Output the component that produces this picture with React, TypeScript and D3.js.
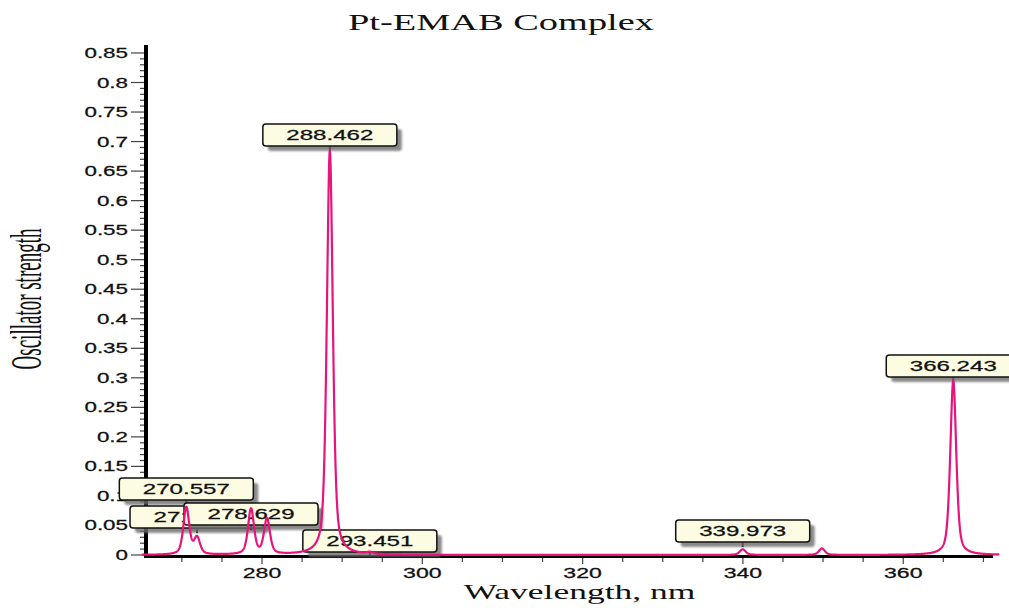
import React from "react";
import * as d3 from "d3";

// ---- data ----
const TRANSITION_NM = [270.557, 271.891, 278.629, 280.62, 288.462, 293.451, 339.973, 349.85, 366.243];
const TRANSITION_F = [0.08, 0.028, 0.077, 0.06, 0.684, 0.003, 0.0095, 0.011, 0.295];
const HWHM_NM = 0.44;

const LABEL_NM = [270.557, 271.891, 278.629, 288.462, 293.451, 339.973, 366.243];
const LABEL_TEXT = ["270.557", "271.891", "278.629", "288.462", "293.451", "339.973", "366.243"];
// level (oscillator strength units) of the bottom edge of each label box
const LABEL_LEVEL = [0.0931, 0.0457, 0.0508, 0.6925, 0.0051, 0.022, 0.3014];

const X_TICKS_MAJOR = [280, 300, 320, 340, 360];
const Y_TICK_LABELS = ["0", "0.05", "0.1", "0.15", "0.2", "0.25", "0.3", "0.35", "0.4", "0.45", "0.5", "0.55", "0.6", "0.65", "0.7", "0.75", "0.8", "0.85"];

const TITLE = "Pt-EMAB Complex";
const X_TITLE = "Wavelength, nm";
const Y_TITLE = "Oscillator strength";

const W = 1009;
const H = 608;

export default function App() {
  const x = d3.scaleLinear().domain([265.65, 371.2]).range([147, 993]);
  const y = d3.scaleLinear().domain([0, 0.8635]).range([555, 45]);

  // broadened spectrum (pseudo-Voigt line shape around each transition)
  const grid = d3.range(265, 372.001, 0.02);
  const spectrum = grid.map((l) => {
    let s = 0;
    TRANSITION_NM.forEach((c, i) => {
      const r = (l - c) / HWHM_NM;
      const r2 = r * r;
      s += TRANSITION_F[i] * (0.5 / (1 + r2) + 0.5 * Math.exp(-Math.LN2 * r2));
    });
    return [l, s] as [number, number];
  });
  const line = d3
    .line<[number, number]>()
    .x((d) => x(d[0]))
    .y((d) => y(d[1]));

  const xMinor = d3.range(270, 371, 5);
  const yMinor = d3.range(0, 86).map((i) => i / 100);

  const sans = "'Liberation Sans', Arial, sans-serif";
  const serif = "'Liberation Serif', 'Times New Roman', serif";
  const boxW = 134;
  const boxH = 22;

  return (
    <svg width={W} height={H} style={{ position: "absolute", left: 0, top: 0, background: "#fff" }}>
      <defs>
        <filter id="sh" x="-10%" y="-20%" width="130%" height="160%">
          <feGaussianBlur stdDeviation="1.3" />
        </filter>
      </defs>

      {/* title */}
      <text
        transform={`translate(501,30) scale(1.6,1)`}
        textAnchor="middle"
        fontFamily={serif}
        fontSize={24}
        fill="#111"
      >
        {TITLE}
      </text>

      {/* y axis ticks */}
      {yMinor.map((v, i) => {
        const major = i % 5 === 0;
        return (
          <line
            key={"ym" + i}
            x1={major ? 131 : 140}
            x2={146}
            y1={y(v)}
            y2={y(v)}
            stroke="#444"
            strokeWidth={1.2}
          />
        );
      })}
      {Y_TICK_LABELS.map((t, i) => (
        <text
          key={"yl" + i}
          transform={`translate(128,${y(+t) + 5}) scale(1.6,1)`}
          textAnchor="end"
          fontFamily={sans}
          fontSize={14}
          fill="#111"
          stroke="#111"
          strokeWidth={0.25}
        >
          {t}
        </text>
      ))}

      {/* x axis ticks */}
      {xMinor.map((v, i) => {
        const major = X_TICKS_MAJOR.includes(v);
        return (
          <line
            key={"xm" + i}
            x1={x(v)}
            x2={x(v)}
            y1={556}
            y2={major ? 564 : 562}
            stroke="#444"
            strokeWidth={1.2}
          />
        );
      })}
      {X_TICKS_MAJOR.map((v) => (
        <text
          key={"xl" + v}
          transform={`translate(${x(v)},578) scale(1.65,1)`}
          textAnchor="middle"
          fontFamily={sans}
          fontSize={14}
          fill="#111"
          stroke="#111"
          strokeWidth={0.25}
        >
          {v}
        </text>
      ))}

      {/* axis lines */}
      <line x1={146} x2={146} y1={45} y2={557} stroke="#000" strokeWidth={4} />
      <line x1={144} x2={993} y1={556.5} y2={556.5} stroke="#000" strokeWidth={3} />

      {/* axis titles */}
      <text
        transform={`translate(579.5,599) scale(1.69,1)`}
        textAnchor="middle"
        fontFamily={serif}
        fontSize={21}
        fill="#111"
      >
        {X_TITLE}
      </text>
      <text
        transform={`translate(41,299) scale(2.3,1) rotate(-90)`}
        textAnchor="middle"
        fontFamily={serif}
        fontSize={19}
        fill="#111"
      >
        {Y_TITLE}
      </text>

      {/* peak labels */}
      {LABEL_NM.map((nm, i) => {
        const cx = x(nm);
        const bottom = y(LABEL_LEVEL[i]);
        const top = bottom - boxH;
        const left = cx - boxW / 2;
        return (
          <g key={"lab" + i}>
            <line x1={cx} x2={cx} y1={bottom} y2={bottom + 5} stroke="#000" strokeWidth={2} />
            <rect
              x={left + 5}
              y={top + 5}
              width={boxW}
              height={boxH}
              rx={3}
              fill="#6e6e6e"
              opacity={0.8}
              filter="url(#sh)"
            />
            <rect
              x={left}
              y={top}
              width={boxW}
              height={boxH}
              rx={3}
              fill="#fcfce2"
              stroke="#111"
              strokeWidth={1.5}
            />
            <text
              transform={`translate(${cx},${top + 16}) scale(1.72,1)`}
              textAnchor="middle"
              fontFamily={sans}
              fontSize={14}
              fill="#111"
              stroke="#111"
              strokeWidth={0.25}
            >
              {LABEL_TEXT[i]}
            </text>
          </g>
        );
      })}

      {/* spectrum */}
      <path d={line(spectrum) || ""} fill="none" stroke="#e6147c" strokeWidth={2.2} strokeLinejoin="round" />
    </svg>
  );
}
